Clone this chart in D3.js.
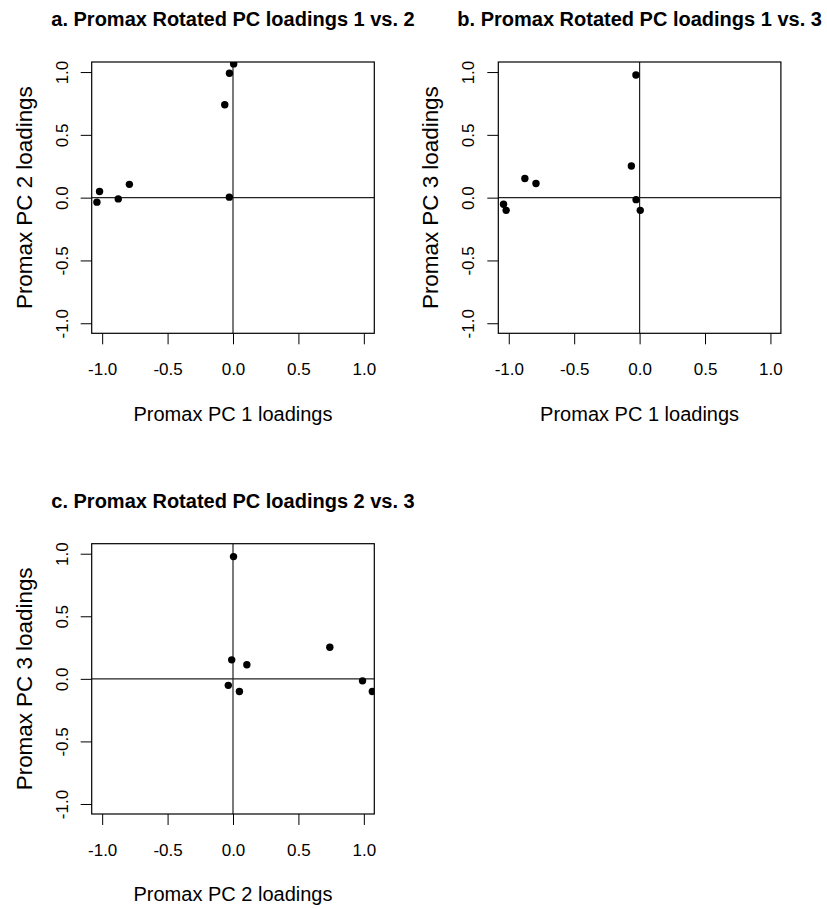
<!DOCTYPE html>
<html>
<head>
<meta charset="utf-8">
<script src="https://cdn.jsdelivr.net/npm/d3@7"></script>
<style>
    body { margin: 0; background: #fff; }
    text { font-family: "Liberation Sans", Arial, sans-serif; fill: #000; }
</style>
</head>
<body>
<script>
// promax rotated loadings, one entry per variable
var pc1 = [-1.04, -1.02, -0.877, -0.792, -0.063, -0.027, 0.005, -0.028];
var pc2 = [-0.036, 0.049, -0.01, 0.106, 0.74, 0.99, 1.065, 0.004];
var pc3 = [-0.052, -0.101, 0.152, 0.113, 0.252, -0.016, -0.101, 0.977];

var tickValues = [-1, -0.5, 0, 0.5, 1];
var tickLabels = ["-1.0", "-0.5", "0.0", "0.5", "1.0"];
var axisLimits = [-1.08, 1.08];

var panelTitles = ["a. Promax Rotated PC loadings 1 vs. 2",
                   "b. Promax Rotated PC loadings 1 vs. 3",
                   "c. Promax Rotated PC loadings 2 vs. 3"];
var xTitles = ["Promax PC 1 loadings", "Promax PC 1 loadings", "Promax PC 2 loadings"];
var yTitles = ["Promax PC 2 loadings", "Promax PC 3 loadings", "Promax PC 3 loadings"];

(function() {
    var width = 827,
        height = 909,
        tickLen = 11,
        pointRadius = 3.7;

    var series = [[pc1, pc2], [pc1, pc3], [pc2, pc3]];

    //plot region boxes, as R's mfrow layout places them
    var boxes = [{left: 91.7, top: 62, w: 282.6, h: 271.3},
                 {left: 498.3, top: 62, w: 282.6, h: 271.3},
                 {left: 91.7, top: 543.7, w: 282.6, h: 270.3}];

    var svg = d3.select("body").append("svg")
                .attr("width", width)
                .attr("height", height);

    var fmt = function(d) {return tickLabels[tickValues.indexOf(d)]; };

    boxes.forEach(function(b, p) {
        var x = d3.scaleLinear().domain(axisLimits).range([0, b.w]),
            y = d3.scaleLinear().domain(axisLimits).range([b.h, 0]);

        var g = svg.append("g")
                   .attr("transform", "translate(" + b.left + "," + b.top + ")");

        g.append("clipPath")
         .attr("id", "clip" + p)
         .append("rect")
         .attr("width", b.w)
         .attr("height", b.h);

        var xAxis = g.append("g")
                     .attr("transform", "translate(0," + b.h + ")")
                     .call(d3.axisBottom(x).tickValues(tickValues).tickFormat(fmt).tickSize(tickLen));
        xAxis.select(".domain").remove();
        xAxis.selectAll("line").attr("stroke", "#000");
        xAxis.selectAll("text")
             .attr("font-size", "17px")
             .attr("font-family", "Liberation Sans, Arial, sans-serif")
             .attr("dy", null)
             .attr("y", 41.7);

        var yAxis = g.append("g")
                     .call(d3.axisLeft(y).tickValues(tickValues).tickFormat(fmt).tickSize(tickLen));
        yAxis.select(".domain").remove();
        yAxis.selectAll("line").attr("stroke", "#000");
        yAxis.selectAll("text")
             .attr("font-size", "17px")
             .attr("font-family", "Liberation Sans, Arial, sans-serif")
             .attr("x", null)
             .attr("dy", null)
             .attr("text-anchor", "middle")
             .attr("transform", "translate(-24,0) rotate(-90)");

        // zero reference lines (abline h=0, v=0)
        var ref = g.append("g").attr("clip-path", "url(#clip" + p + ")");
        ref.append("line")
           .attr("x1", 0).attr("x2", b.w)
           .attr("y1", y(0)).attr("y2", y(0))
           .attr("stroke", "#222")
           .attr("stroke-width", 1.2);
        ref.append("line")
           .attr("x1", x(0)).attr("x2", x(0))
           .attr("y1", 0).attr("y2", b.h)
           .attr("stroke", "#222")
           .attr("stroke-width", 1.2);

        var pts = d3.range(series[p][0].length).map(function(i) {
            return {a: series[p][0][i], b: series[p][1][i]};
        });

        g.append("g")
         .attr("clip-path", "url(#clip" + p + ")")
         .selectAll("circle")
         .data(pts)
         .enter()
         .append("circle")
         .attr("cx", function(d) {return x(d.a); })
         .attr("cy", function(d) {return y(d.b); })
         .attr("r", pointRadius)
         .style("fill", "#000");

        g.append("rect")
         .attr("width", b.w)
         .attr("height", b.h)
         .attr("fill", "none")
         .attr("stroke", "#000")
         .attr("stroke-width", 1.2);

        g.append("text")
         .attr("x", b.w / 2)
         .attr("y", -36)
         .attr("text-anchor", "middle")
         .attr("font-size", "20px")
         .attr("font-weight", "bold")
         .text(panelTitles[p]);

        g.append("text")
         .attr("x", b.w / 2)
         .attr("y", b.h + 87.4)
         .attr("text-anchor", "middle")
         .attr("font-size", "20px")
         .text(xTitles[p]);

        g.append("text")
         .attr("transform", "translate(-60," + (b.h / 2) + ") rotate(-90)")
         .attr("text-anchor", "middle")
         .attr("font-size", "22.4px")
         .text(yTitles[p]);
    });
})();
</script>
</body>
</html>
